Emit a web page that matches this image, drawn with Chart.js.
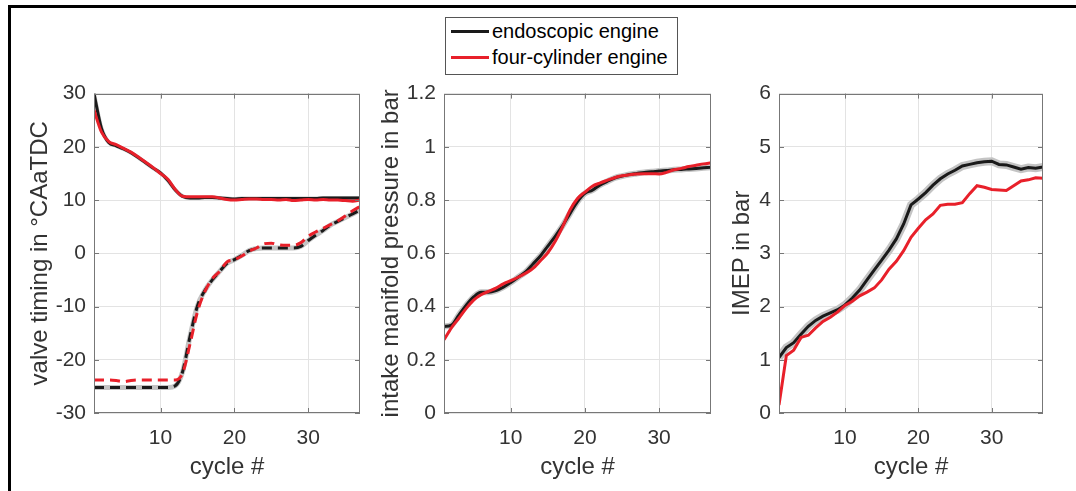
<!DOCTYPE html>
<html>
<head>
<meta charset="utf-8">
<script src="https://cdn.jsdelivr.net/npm/chart.js@4"></script>
<style>
  html, body { margin: 0; padding: 0; background: #fff; }
  body { width: 1076px; height: 491px; position: relative; overflow: hidden; font-family: 'Liberation Sans', Arial, sans-serif; }
  #frame { position: absolute; left: 8px; top: 5px; width: 1200px; height: 600px; border: 3px solid #000; }
  canvas { position: absolute; top: 73px; }
  #legend { position: absolute; left: 445px; top: 17px; width: 231px; height: 56px; border: 1px solid #555; background: #fff; z-index: 2; }
  #legend .row { position: absolute; left: 5px; height: 24px; font-size: 20px; line-height: 24px; color: #000; white-space: nowrap; }
  #legend .swatch { display: inline-block; width: 38px; height: 3px; vertical-align: middle; margin-right: 3px; position: relative; top: -1px; }
</style>
</head>
<body>
<div id="frame"></div>
<div id="legend">
  <div class="row" style="top:1px"><span class="swatch" style="background:#1a1a1a"></span>endoscopic engine</div>
  <div class="row" style="top:27px"><span class="swatch" style="background:#e8202a"></span>four-cylinder engine</div>
</div>
<canvas id="c1" width="350" height="418" style="left:14px"></canvas>
<canvas id="c2" width="351" height="418" style="left:364px"></canvas>
<canvas id="c3" width="348" height="418" style="left:699px"></canvas>
<script>
// 値はすべて画像から読み取り
const cycles = [1,2,3,4,5,6,7,8,9,10,11,12,13,14,15,16,17,18,19,20,21,22,23,24,25,26,27,28,29,30,31,32,33,34,35,36,37];
const xTicks = [10, 20, 30];

// バルブタイミング（実線）
const timingSolidEndo = [30,23.5,20.8,20.2,19.6,18.9,18.0,17.0,16.0,15.1,13.7,11.9,10.7,10.4,10.4,10.5,10.5,10.4,10.3,10.2,10.3,10.3,10.3,10.3,10.3,10.3,10.3,10.3,10.3,10.3,10.3,10.4,10.4,10.4,10.4,10.4,10.4];
const timingSolidFour = [26.9,22.8,21.0,20.4,19.7,19.0,18.1,17.1,16.1,15.0,13.9,12.0,10.7,10.6,10.6,10.6,10.6,10.4,10.1,10.0,10.1,10.2,10.2,10.1,10.1,10.0,10.1,9.9,10.0,10.1,10.0,10.1,10.0,10.0,9.9,9.8,10.0];
// バルブタイミング（破線）
const timingDashedEndo = [-25.2,-25.2,-25.2,-25.2,-25.2,-25.2,-25.2,-25.2,-25.2,-25.2,-25.2,-24.9,-22.2,-15.6,-9.9,-7.0,-5.0,-3.4,-1.9,-1.2,-0.4,0.5,0.9,1.0,1.0,1.0,1.0,1.0,1.3,2.4,3.4,4.3,5.3,6.0,6.7,7.4,8.1];
const timingDashedFour = [-23.8,-23.8,-23.8,-23.9,-24.1,-23.9,-23.8,-23.8,-23.8,-23.8,-23.8,-23.8,-22.5,-17.0,-11.0,-7.2,-4.8,-3.4,-1.6,-1.2,-0.5,0.4,1.0,1.8,1.9,1.6,1.5,1.5,2.0,3.2,4.0,4.7,5.4,6.1,7.0,8.0,8.8];
const timingTicks = [-30,-20,-10,0,10,20,30];

// 吸気管圧力
const pressureEndo = [0.325,0.33,0.368,0.405,0.436,0.454,0.454,0.46,0.473,0.49,0.51,0.53,0.56,0.59,0.627,0.664,0.704,0.75,0.794,0.825,0.837,0.856,0.87,0.883,0.89,0.896,0.9,0.904,0.906,0.909,0.911,0.914,0.915,0.917,0.919,0.921,0.923];
const pressureFour = [0.275,0.32,0.356,0.393,0.424,0.444,0.457,0.469,0.485,0.497,0.51,0.525,0.543,0.572,0.602,0.645,0.70,0.763,0.806,0.83,0.852,0.864,0.874,0.884,0.891,0.895,0.898,0.899,0.899,0.898,0.904,0.914,0.919,0.926,0.931,0.936,0.94];
const pressureTicks = [0,0.2,0.4,0.6,0.8,1,1.2];

// IMEP
const imepEndo = [1.04,1.23,1.32,1.48,1.63,1.74,1.82,1.88,1.94,2.03,2.16,2.31,2.5,2.69,2.87,3.06,3.27,3.55,3.91,4.02,4.14,4.28,4.4,4.49,4.56,4.64,4.67,4.70,4.72,4.73,4.67,4.66,4.62,4.58,4.61,4.6,4.62];
const imepFour = [0.15,1.08,1.18,1.42,1.46,1.6,1.72,1.8,1.9,2.02,2.1,2.2,2.27,2.35,2.5,2.7,2.85,3.05,3.3,3.47,3.63,3.74,3.9,3.92,3.92,3.95,4.12,4.27,4.24,4.2,4.19,4.18,4.27,4.36,4.38,4.42,4.41];
const imepTicks = [0,1,2,3,4,5,6];

const BLACK = '#1a1a1a';
const RED = '#e8202a';
const BAND = '#c4c4c4';
const AXIS = '#777';

Chart.defaults.font.family = "'Liberation Sans', Arial, sans-serif";
Chart.defaults.color = '#333';

const pts = (ys) => ys.map((v, i) => ({ x: cycles[i], y: v }));

function line(data, color, width, order, extra) {
  return Object.assign({
    data: pts(data),
    borderColor: color,
    borderWidth: width,
    pointRadius: 0,
    fill: false,
    cubicInterpolationMode: 'monotone',
    order: order
  }, extra || {});
}

// 枠線と内向きの目盛り
const boxPlugin = {
  id: 'box',
  afterDatasetsDraw(chart) {
    const { ctx, chartArea: a, scales } = chart;
    ctx.save();
    ctx.strokeStyle = AXIS;
    ctx.lineWidth = 1;
    ctx.strokeRect(Math.round(a.left) + 0.5, Math.round(a.top) + 0.5, Math.round(a.width) - 1, Math.round(a.height) - 1);
    ctx.beginPath();
    scales.x.ticks.forEach(t => {
      const px = Math.round(scales.x.getPixelForValue(t.value)) + 0.5;
      ctx.moveTo(px, a.bottom); ctx.lineTo(px, a.bottom - 5);
      ctx.moveTo(px, a.top); ctx.lineTo(px, a.top + 5);
    });
    scales.y.ticks.forEach(t => {
      const py = Math.round(scales.y.getPixelForValue(t.value)) + 0.5;
      ctx.moveTo(a.left, py); ctx.lineTo(a.left + 5, py);
      ctx.moveTo(a.right, py); ctx.lineTo(a.right - 5, py);
    });
    ctx.stroke();
    ctx.restore();
  }
};

function makeChart(id, datasets, yTicks, yTitle, titlePad) {
  const ctx = document.getElementById(id);
  return new Chart(ctx, {
    type: 'line',
    data: { datasets: datasets },
    plugins: [boxPlugin],
    options: {
      responsive: false,
      animation: false,
      devicePixelRatio: 1,
      layout: { padding: { top: 6, right: 4, left: 0, bottom: 0 } },
      plugins: { legend: { display: false }, tooltip: { enabled: false } },
      scales: {
        x: {
          type: 'linear',
          min: 1,
          max: 37,
          afterBuildTicks: (s) => { s.ticks = xTicks.map(v => ({ value: v })); },
          afterFit: (s) => { s.height = 78; },
          grid: { color: '#e3e3e3', drawTicks: false },
          border: { display: false },
          ticks: { font: { size: 21 }, padding: 13, maxRotation: 0 },
          title: { display: true, text: 'cycle #', font: { size: 24 }, padding: { top: 0, bottom: 9 } }
        },
        y: {
          type: 'linear',
          min: yTicks[0],
          max: yTicks[yTicks.length - 1],
          afterBuildTicks: (s) => { s.ticks = yTicks.map(v => ({ value: v })); },
          afterFit: (s) => { s.width = 80; },
          grid: { color: '#e3e3e3', drawTicks: false },
          border: { display: false },
          ticks: {
            font: { size: 21 },
            padding: 8,
            callback: (v) => String(+Number(v).toFixed(1))
          },
          title: { display: true, text: yTitle, font: { size: 24 }, padding: { top: titlePad, bottom: 0 } }
        }
      }
    }
  });
}

makeChart('c1', [
  line(timingDashedEndo, BAND, 5, 3),
  line(timingSolidEndo, BAND, 4, 3),
  line(timingDashedEndo, BLACK, 3, 2, { borderDash: [10, 6] }),
  line(timingSolidEndo, BLACK, 3, 2),
  line(timingDashedFour, RED, 3, 1, { borderDash: [10, 6] }),
  line(timingSolidFour, RED, 3, 1)
], timingTicks, 'valve timing in \u00B0CAaTDC', 11.6);

makeChart('c2', [
  line(pressureEndo, BAND, 6, 3),
  line(pressureEndo, BLACK, 3, 2),
  line(pressureFour, RED, 3, 1)
], pressureTicks, 'intake manifold pressure in bar', 12.6);

makeChart('c3', [
  line(imepEndo, BAND, 8, 3, { cubicInterpolationMode: 'default', tension: 0 }),
  line(imepEndo, BLACK, 3, 2, { cubicInterpolationMode: 'default', tension: 0 }),
  line(imepFour, RED, 3, 1, { cubicInterpolationMode: 'default', tension: 0 })
], imepTicks, 'IMEP in bar', 28.6);
</script>
</body>
</html>
